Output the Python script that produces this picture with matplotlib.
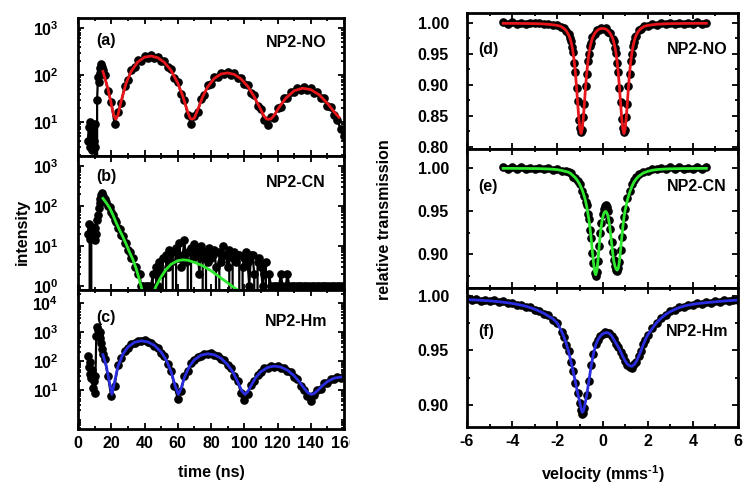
import numpy as np
import matplotlib
matplotlib.use('Agg')
import matplotlib.pyplot as plt
from matplotlib.ticker import MultipleLocator, FixedLocator, FuncFormatter, LogLocator, NullFormatter
from matplotlib.transforms import Bbox, TransformedBbox

plt.rcParams['font.family'] = ['Liberation Sans', 'DejaVu Sans']
plt.rcParams['font.weight'] = 'bold'
plt.rcParams['axes.labelweight'] = 'bold'
plt.rcParams['mathtext.fontset'] = 'custom'
plt.rcParams['mathtext.rm'] = 'Liberation Sans:bold'
plt.rcParams['mathtext.default'] = 'rm'
plt.rcParams['axes.unicode_minus'] = False

# ---------------- time spectra (ns, intensity); zero counts drop to the axis ----------------
t_a = [6, 6.5, 7, 7.5, 8, 8.5, 9, 9.5, 10, 10.5, 11, 11.5, 12, 12.5, 13, 13.5, 14, 14.5, 15,
       16, 18, 20, 22, 24, 26, 28, 30, 32, 34, 36, 38, 40, 42, 44, 46, 48, 50, 52, 54,
       56, 58, 60, 62, 64, 66, 68, 70, 72, 74, 76, 78, 80, 82, 84, 86, 88, 90, 92, 94,
       96, 98, 100, 102, 104, 106, 108, 110, 112, 114, 116, 118, 120, 122, 124, 126, 128, 130, 132, 134,
       136, 138, 140, 142, 144, 146, 148, 150, 152, 154, 156, 158, 160]
I_a = [4, 8, 3, 10, 5, 2.5, 7, 4, 9, 3, 0, 30, 90, 70, 140, 110, 170, 150, 125,
       100, 45, 27, 9, 16, 25, 58, 78, 130, 145, 205, 200, 255, 235, 270, 230, 245, 200, 195, 145,
       135, 85, 72, 40, 30, 14, 9, 13.5, 16, 31, 38, 60, 66, 90, 92, 112, 104, 118, 100, 108,
       88, 87, 66, 62, 41, 37, 22, 19, 11, 8.5, 13, 12.5, 20, 21, 32, 33, 44, 43, 53, 49,
       56, 47, 52, 42, 43, 33, 32, 22, 21, 14, 11, 7, 5]
tf_a = [15, 18, 20, 21.5, 22.7, 24, 26, 29, 32, 36, 40, 44, 48, 52, 56, 60, 63, 66, 67.5, 68.7,
        70, 72, 75, 78, 82, 86, 90, 94, 98, 102, 106, 109, 112, 113.5, 114.7, 116, 118, 121, 125, 130,
        135, 140, 145, 150, 154, 157]
If_a = [119, 51.5, 24.2, 13.6, 11.5, 13.9, 28.3, 68, 120, 190, 239, 254, 233, 185, 125, 67.6, 35.8, 16.4, 12, 11.5,
        12.2, 18.2, 34.5, 56, 85, 105, 111, 103, 83, 58, 34.6, 21.3, 13.2, 11.6, 11.5, 11.6, 13.9, 20.7, 32.3, 46.2,
        52.4, 48.9, 38.2, 25.1, 16.6, 12.6]

t_b = [6, 6.5, 7, 7.5, 8, 8.5, 9, 9.5, 10, 10.5, 11, 11.5, 12, 12.5, 13, 13.5, 14, 14.5, 15,
       16, 17, 18, 19, 20, 21, 22, 23, 24, 25, 26, 27, 28, 29, 30, 31, 32, 33, 34, 35,
       36, 37, 38, 39, 40, 41, 42, 43, 44, 45, 46, 47, 48, 49, 50, 51, 52, 53, 54, 55,
       56, 57, 58, 59, 60, 61, 62, 63, 64, 65, 66, 67, 68, 69, 70, 71, 72, 73, 74, 75,
       76, 77, 78, 79, 80, 81, 82, 83, 84, 85, 86, 87, 88, 89, 90, 91, 92, 93, 94, 95,
       96, 97, 98, 99, 100, 101, 102, 103, 104, 105, 106, 107, 108, 109, 110, 111, 112, 113, 114, 115,
       116, 117, 118, 119, 120, 121, 122, 123, 124, 125, 126, 127, 128, 129, 130, 131, 132, 133, 134, 135,
       136, 137, 138, 139, 140, 141, 142, 143, 144, 145, 146, 147, 148, 149, 150, 151, 152, 153, 154, 155,
       156, 157, 158, 159, 160]
I_b = [20, 35, 15, 0, 25, 30, 18, 22, 14, 28, 20, 45, 60, 90, 120, 150, 190, 210, 175,
       150, 128, 100, 95, 72, 60, 45, 40, 28, 27, 19, 18, 12, 12, 8, 7, 5, 5, 3, 3,
       2, 2, 1, 1, 0, 1, 1, 0, 1, 2, 0, 3, 1, 4, 2, 5, 0, 6, 3, 8,
       4, 7, 0, 9, 5, 12, 3, 6, 14, 4, 7, 0, 9, 5, 11, 6, 8, 2, 10, 5,
       0, 7, 4, 9, 5, 6, 8, 3, 0, 7, 4, 10, 6, 6, 3, 8, 0, 5, 7, 4,
       6, 6, 0, 3, 5, 7, 4, 1, 6, 6, 2, 0, 4, 5, 3, 1, 2, 4, 0, 2,
       1, 0, 1, 1, 0, 1, 2, 1, 0, 1, 2, 1, 0, 1, 1, 0, 1, 1, 1, 0,
       1, 1, 0, 1, 0, 1, 1, 0, 1, 1, 0, 1, 1, 1, 0, 1, 0, 1, 1, 0,
       1, 1, 0, 1, 1]
tf_b = [15, 17, 19, 21, 23, 25, 27, 29, 31, 33, 35, 37, 38.5, 39.5,
        45, 47, 50, 53, 56, 60, 63, 66, 70, 75, 80, 85, 90, 94, 97, 99]
If_b = [155, 120, 90, 60, 38, 25, 17, 11, 7, 4.6, 2.7, 1.4, 0.8, 0.5,
        0.6, 1.0, 1.7, 2.6, 3.5, 4.3, 4.5, 4.4, 3.9, 3.2, 2.4, 1.7, 1.2, 0.9, 0.75, 0.6]

t_c = t_a
I_c = [150, 60, 90, 35, 25, 50, 12, 20, 8, 30, 700, 1500, 1200, 800, 1000, 600, 400, 250, 170,
       120, 30, 6, 14, 70, 125, 225, 285, 390, 420, 500, 480, 510, 440, 420, 330, 290, 195, 145, 80,
       46, 14, 5, 9, 30, 46, 85, 104, 140, 152, 178, 170, 182, 158, 152, 118, 104, 71, 55, 30,
       21, 8, 4.5, 7, 15, 20, 34, 40, 55, 57, 67, 63, 68, 58, 57, 45, 41, 28, 24, 14,
       10, 6, 4, 6.5, 10, 11, 17, 18, 24, 23, 28, 26, 30]
tf_c = [15, 17, 19, 20.4, 22, 24, 27, 30, 34, 38, 42, 46, 50, 53, 56, 58.5, 60.4, 62, 64, 67,
        70, 74, 78, 82, 86, 90, 93, 96, 98.5, 100.4, 102, 104, 107, 110, 114, 118, 122, 126, 130, 133,
        136, 138.5, 140.4, 142, 144, 147, 150, 154, 158]
If_c = [164, 68, 17, 7, 19, 64, 173, 300, 439, 495, 455, 343, 203, 110, 43, 13.5, 7, 11.2, 27, 65,
        109, 158, 177, 164, 124, 75, 43, 19.6, 9.3, 7, 8.5, 13.9, 27.2, 42.6, 59.6, 66.5, 61.6, 47.9, 30.9, 19.5,
        11.4, 7.8, 7, 7.5, 9.4, 14, 19.4, 25.4, 27.8]

# ---------------- Moessbauer spectra (mm/s, relative transmission) ----------------
v_d = [-4.4, -4.2, -4.0, -3.8, -3.6, -3.4, -3.2, -3.0, -2.8, -2.6, -2.4, -2.2, -2.0,
       -1.85, -1.7, -1.6, -1.5,
       -1.45, -1.4, -1.35, -1.3, -1.25, -1.2, -1.15, -1.1, -1.05, -1.0, -0.95, -0.9, -0.85, -0.8,
       -0.75, -0.7, -0.65, -0.6, -0.55, -0.5, -0.45,
       -0.35, -0.25, -0.15, -0.05, 0.05, 0.15, 0.25, 0.35,
       0.45, 0.5, 0.55, 0.6, 0.65, 0.7, 0.75, 0.8, 0.85, 0.9, 0.95, 1.0, 1.05, 1.1, 1.15, 1.2,
       1.25, 1.3, 1.35, 1.4, 1.45,
       1.5, 1.6, 1.7, 1.85,
       2.0, 2.2, 2.4, 2.6, 2.8, 3.0, 3.2, 3.4, 3.6, 3.8, 4.0, 4.2, 4.4, 4.6]
T_d = [1.0008, 0.9985, 1.0010, 0.9990, 1.0005, 0.9982, 1.0002, 0.9994, 1.0004, 0.9976, 0.9990, 0.9958, 0.9970,
       0.9930, 0.9918, 0.9862, 0.9815,
       0.9750, 0.9712, 0.9605, 0.9525, 0.9352, 0.9208, 0.8940, 0.8735, 0.8430, 0.8300, 0.8235, 0.8262, 0.8480, 0.8690,
       0.8975, 0.9170, 0.9380, 0.9490, 0.9625, 0.9680, 0.9765,
       0.9815, 0.9885, 0.9890, 0.9920, 0.9898, 0.9910, 0.9860, 0.9838,
       0.9740, 0.9700, 0.9598, 0.9515, 0.9350, 0.9200, 0.8940, 0.8725, 0.8440, 0.8295, 0.8230, 0.8270, 0.8475, 0.8695, 0.8975, 0.9175,
       0.9385, 0.9500, 0.9630, 0.9690, 0.9775,
       0.9795, 0.9880, 0.9900, 0.9952,
       0.9950, 0.9980, 0.9968, 0.9992, 0.9978, 1.0000, 0.9982, 1.0006, 0.9986, 1.0003, 0.9990, 1.0008, 0.9987, 1.0004]
Tf_d = [0.9993, 0.9993, 0.9992, 0.9992, 0.9991, 0.9990, 0.9989, 0.9988, 0.9986, 0.9982, 0.9978, 0.9969, 0.9959,
        0.9944, 0.9909, 0.9870, 0.9807,
        0.9762, 0.9700, 0.9619, 0.9512, 0.9370, 0.9191, 0.8960, 0.8710, 0.8460, 0.8282, 0.8210, 0.8281, 0.8458, 0.8707,
        0.8955, 0.9186, 0.9363, 0.9504, 0.9610, 0.9689, 0.9751,
        0.9827, 0.9872, 0.9899, 0.9909, 0.9909, 0.9899, 0.9872, 0.9827,
        0.9751, 0.9689, 0.9610, 0.9504, 0.9363, 0.9186, 0.8955, 0.8707, 0.8458, 0.8281, 0.8210, 0.8282, 0.8460, 0.8710, 0.8960, 0.9191,
        0.9370, 0.9512, 0.9619, 0.9700, 0.9762,
        0.9807, 0.9870, 0.9909, 0.9944,
        0.9959, 0.9969, 0.9978, 0.9982, 0.9986, 0.9988, 0.9989, 0.9990, 0.9991, 0.9992, 0.9992, 0.9993, 0.9993, 0.9994]

v_e = [-4.4, -4.2, -4.0, -3.8, -3.6, -3.4, -3.2, -3.0, -2.8, -2.6, -2.4, -2.2, -2.0, -1.8, -1.6,
       -1.5, -1.4, -1.3, -1.2, -1.1, -1.0, -0.9,
       -0.8, -0.75, -0.7, -0.65, -0.6, -0.55, -0.5, -0.45, -0.4, -0.35,
       -0.3, -0.25, -0.2, -0.15, -0.1, -0.05, 0.0, 0.05, 0.1, 0.15,
       0.2, 0.25, 0.3, 0.35, 0.4, 0.45, 0.5, 0.55, 0.6, 0.65,
       0.7, 0.75, 0.8, 0.85, 0.9, 0.95, 1.0,
       1.1, 1.2, 1.3, 1.4, 1.5, 1.6,
       1.8, 2.0, 2.2, 2.4, 2.6, 2.8, 3.0, 3.2, 3.4, 3.6, 3.8, 4.0, 4.2, 4.4, 4.6]
T_e = [1.0015, 0.9990, 1.0012, 0.9995, 1.0018, 0.9992, 1.0010, 0.9988, 1.0008, 0.9990, 1.0005, 0.9982, 0.9992, 0.9970, 0.9972,
       0.9952, 0.9945, 0.9905, 0.9892, 0.9848, 0.9818, 0.9742,
       0.9680, 0.9605, 0.9570, 0.9465, 0.9410, 0.9285, 0.9190, 0.9020, 0.8905, 0.8780,
       0.8745, 0.8800, 0.8925, 0.9095, 0.9245, 0.9370, 0.9470, 0.9530, 0.9565, 0.9572,
       0.9550, 0.9500, 0.9400, 0.9290, 0.9150, 0.9025, 0.8930, 0.8860, 0.8820, 0.8808,
       0.8838, 0.8915, 0.9055, 0.9200, 0.9325, 0.9440, 0.9525,
       0.9650, 0.9740, 0.9815, 0.9865, 0.9900, 0.9930,
       0.9962, 0.9975, 0.9995, 0.9990, 1.0010, 0.9992, 1.0012, 0.9995, 1.0015, 0.9992, 1.0010, 0.9996, 1.0018, 0.9994, 1.0012]
Tf_e = [1.0000, 1.0000, 1.0000, 0.9999, 0.9999, 0.9999, 0.9998, 0.9998, 0.9997, 0.9995, 0.9993, 0.9990, 0.9985, 0.9975, 0.9962,
        0.9955, 0.9938, 0.9915, 0.9890, 0.9855, 0.9810, 0.9750,
        0.9670, 0.9620, 0.9560, 0.9480, 0.9400, 0.9300, 0.9180, 0.9040, 0.8910, 0.8800,
        0.8765, 0.8810, 0.8930, 0.9090, 0.9230, 0.9340, 0.9420, 0.9470, 0.9495, 0.9500,
        0.9480, 0.9440, 0.9360, 0.9260, 0.9140, 0.9020, 0.8925, 0.8865, 0.8830, 0.8818,
        0.8840, 0.8920, 0.9050, 0.9190, 0.9320, 0.9430, 0.9510,
        0.9630, 0.9720, 0.9790, 0.9845, 0.9880, 0.9908,
        0.9945, 0.9965, 0.9978, 0.9986, 0.9990, 0.9993, 0.9995, 0.9996, 0.9997, 0.9998, 0.9998, 0.9999, 0.9999, 1.0000, 1.0000]

v_f = [-6.0, -5.8, -5.6, -5.4, -5.2, -5.0, -4.8, -4.6, -4.4, -4.2, -4.0, -3.8, -3.6, -3.4, -3.2, -3.0,
       -2.8, -2.6, -2.4, -2.2, -2.0,
       -1.8, -1.7, -1.6, -1.5, -1.4, -1.3, -1.2, -1.1, -1.0,
       -0.95, -0.9, -0.85, -0.8,
       -0.7, -0.6, -0.5, -0.4, -0.3, -0.2, -0.1, 0.0, 0.1, 0.2, 0.3, 0.4, 0.5, 0.6,
       0.7, 0.8, 0.9, 1.0, 1.1, 1.2, 1.3, 1.4, 1.5, 1.6, 1.7, 1.8, 1.9, 2.0,
       2.2, 2.4, 2.6, 2.8, 3.0, 3.2, 3.4, 3.6, 3.8, 4.0, 4.2, 4.4, 4.6, 4.8, 5.0, 5.2, 5.4, 5.6, 5.8, 6.0]
T_f = [0.9975, 0.9958, 0.9968, 0.9952, 0.9962, 0.9948, 0.9957, 0.9940, 0.9948, 0.9930, 0.9936, 0.9915, 0.9920, 0.9898, 0.9896, 0.9870,
       0.9865, 0.9832, 0.9820, 0.9782, 0.9755,
       0.9665, 0.9625, 0.9552, 0.9495, 0.9395, 0.9315, 0.9205, 0.9112, 0.9015,
       0.8955, 0.8915, 0.8930, 0.8975,
       0.9095, 0.9220, 0.9365, 0.9465, 0.9555, 0.9598, 0.9635, 0.9648, 0.9665, 0.9660, 0.9660, 0.9632, 0.9605, 0.9560,
       0.9535, 0.9485, 0.9448, 0.9400, 0.9370, 0.9352, 0.9342, 0.9372, 0.9398, 0.9450, 0.9492, 0.9555, 0.9598, 0.9645,
       0.9705, 0.9752, 0.9800, 0.9826, 0.9860, 0.9870, 0.9898, 0.9900, 0.9920, 0.9915, 0.9932, 0.9928, 0.9942, 0.9935,
       0.9948, 0.9944, 0.9958, 0.9950, 0.9962, 0.9957]
Tf_f = [0.9965, 0.9963, 0.9961, 0.9959, 0.9956, 0.9953, 0.9950, 0.9946, 0.9941, 0.9936, 0.9930, 0.9922, 0.9914, 0.9904, 0.9892, 0.9877,
        0.9860, 0.9840, 0.9815, 0.9790, 0.9750,
        0.9670, 0.9620, 0.9560, 0.9490, 0.9400, 0.9310, 0.9210, 0.9110, 0.9020,
        0.8970, 0.8935, 0.8945, 0.8985,
        0.9090, 0.9225, 0.9360, 0.9470, 0.9550, 0.9600, 0.9630, 0.9650, 0.9660, 0.9663, 0.9655, 0.9635, 0.9600, 0.9565,
        0.9530, 0.9490, 0.9445, 0.9405, 0.9375, 0.9360, 0.9355, 0.9370, 0.9400, 0.9445, 0.9495, 0.9550, 0.9600, 0.9640,
        0.9700, 0.9755, 0.9795, 0.9830, 0.9855, 0.9875, 0.9892, 0.9905, 0.9915, 0.9922, 0.9928, 0.9933, 0.9937, 0.9941,
        0.9945, 0.9949, 0.9952, 0.9955, 0.9958, 0.9960]

RED = '#e8161b'
GREEN = '#2ee82e'
BLUE = '#2a2ee0'

fig = plt.figure(figsize=(7.5, 4.83), dpi=100)
W, H = 750.0, 483.0


def box(x0, y0, x1, y1):
    # axes from pixel corners (top-left origin)
    return fig.add_axes([x0 / W, 1 - y1 / H, (x1 - x0) / W, (y1 - y0) / H])


def style(ax):
    for s in ax.spines.values():
        s.set_linewidth(2.0)
        s.set_zorder(5)
    ax.tick_params(which='both', direction='in', top=True, right=True, labelsize=11.5, width=1.3)
    ax.tick_params(which='major', length=4.5)
    ax.tick_params(which='minor', length=2.5)


logfmt = FuncFormatter(lambda y, pos: r'$10^{%d}$' % int(round(np.log10(y))))

ax_a = box(78, 18, 344, 156)
ax_b = box(78, 156, 344, 290)
ax_c = box(78, 290, 344, 429)

time_panels = [
    (ax_a, t_a, I_a, tf_a, If_a, RED, (1.9, 1630), [10, 100, 1000], '(a)', 'NP2-NO', 0.84, 0.82),
    (ax_b, t_b, I_b, tf_b, If_b, GREEN, (0.794, 1780), [1, 10, 100, 1000], '(b)', 'NP2-CN', 0.845, 0.80),
    (ax_c, t_c, I_c, tf_c, If_c, BLUE, (0.45, 28000), [10, 100, 1000, 10000], '(c)', 'NP2-Hm', 0.805, 0.77),
]
for ax, t, I, tf, If, col, ylim, majors, tag, name, ytag, yname in time_panels:
    ax.set_yscale('log', nonpositive='clip')
    ax.plot(t, I, 'o-', color='k', ms=5.2, lw=1.6, zorder=2)
    ax.plot(tf, If, color=col, lw=2.0, zorder=3)
    ax.set_xlim(0, 160)
    ax.set_ylim(*ylim)
    ax.yaxis.set_major_locator(FixedLocator(majors))
    ax.yaxis.set_major_formatter(logfmt)
    ax.yaxis.set_minor_locator(LogLocator(base=10, subs=np.arange(2, 10), numticks=20))
    ax.yaxis.set_minor_formatter(NullFormatter())
    ax.xaxis.set_major_locator(MultipleLocator(20))
    ax.xaxis.set_minor_locator(MultipleLocator(10))
    style(ax)
    ax.tick_params(axis='y', pad=14)
    ax.tick_params(axis='x', pad=5)
    ax.text(0.068, ytag, tag, transform=ax.transAxes, fontsize=11.5, ha='left', va='center')
    ax.text(0.82, yname, name, transform=ax.transAxes, fontsize=11.5, ha='center', va='center')
    if ax is not ax_c:
        ax.tick_params(axis='x', labelbottom=False)

ax_c.set_xlabel('time (ns)', fontsize=11.5, labelpad=10)
fig.text(0.03, 0.52, 'intensity', rotation=90, fontsize=11.5, ha='center', va='center')

ax_d = box(467, 13, 738, 149)
ax_e = box(467, 149, 738, 288)
ax_f = box(467, 288, 738, 427)

moss_panels = [
    (ax_d, v_d, T_d, Tf_d, RED, (0.796, 1.016), '(d)', 'NP2-NO', 0.728),
    (ax_e, v_e, T_e, Tf_e, GREEN, (0.861, 1.0225), '(e)', 'NP2-CN', 0.73),
    (ax_f, v_f, T_f, Tf_f, BLUE, (0.880, 1.0071), '(f)', 'NP2-Hm', 0.686),
]
for ax, v, T, Tf, col, ylim, tag, name, ytxt in moss_panels:
    ax.plot(v, T, 'o', color='k', ms=5.2, zorder=2)
    ax.plot(v, Tf, color=col, lw=2.0, zorder=3)
    ax.set_xlim(-6, 6)
    ax.set_ylim(*ylim)
    ax.yaxis.set_major_locator(MultipleLocator(0.05))
    ax.yaxis.set_major_formatter(FuncFormatter(lambda y, pos: '%.2f' % y))
    ax.yaxis.set_minor_locator(MultipleLocator(0.025))
    ax.xaxis.set_major_locator(MultipleLocator(2))
    ax.xaxis.set_minor_locator(MultipleLocator(1))
    style(ax)
    ax.tick_params(axis='y', pad=13)
    ax.tick_params(axis='x', pad=5)
    ax.text(0.041, ytxt, tag, transform=ax.transAxes, fontsize=11.5, ha='left', va='center')
    ax.text(0.848, ytxt, name, transform=ax.transAxes, fontsize=11.5, ha='center', va='center')
    if ax is not ax_f:
        ax.tick_params(axis='x', labelbottom=False)

ax_f.set_xlabel(r'velocity (mms$^{\text{-}1}$)', fontsize=11.5, labelpad=10)
fig.text(0.513, 0.545, 'relative transmission', rotation=90, fontsize=11.5, ha='center', va='center')

# the last time label is cut by the panel edge in the original figure
fig.canvas.draw()
cut = TransformedBbox(Bbox([[0, 0], [350 / W, 1]]), fig.transFigure)
for lab in ax_c.get_xticklabels():
    if lab.get_text() == '160':
        lab.set_clip_box(cut)
        lab.set_clip_on(True)

fig.savefig('out.png', dpi=100)
